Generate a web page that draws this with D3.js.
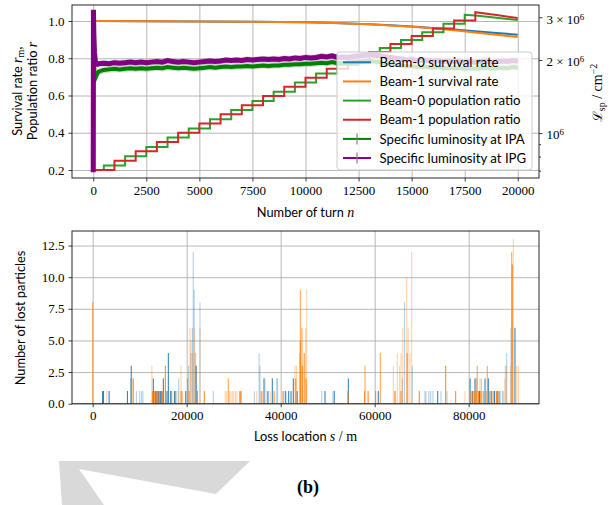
<!DOCTYPE html>
<html>
<head>
<meta charset="utf-8">
<script src="https://cdn.jsdelivr.net/npm/d3@7"></script>
<style>
  body { margin: 0; background: #fff; }
  svg { display: block; }
</style>
</head>
<body>
<svg id="fig" width="616" height="505"></svg>
<script>
// ---------------- data ----------------
// survival rate of each beam vs. turn number
const survTurns = [0, 2500, 5000, 7500, 10000, 11000, 12000, 13000, 14000, 15000, 16000, 17000, 18000, 19000, 20000];
const beam0Survival = [1.000, 0.999, 0.998, 0.996, 0.994, 0.991, 0.987, 0.983, 0.977, 0.970, 0.963, 0.954, 0.945, 0.936, 0.926];
const beam1Survival = [1.000, 0.999, 0.998, 0.996, 0.994, 0.991, 0.987, 0.982, 0.976, 0.969, 0.961, 0.950, 0.938, 0.926, 0.914];

// population ratio: injection steps (start turn, level), then free decay
const beam1StepStarts = [0, 1000, 2000, 3000, 4000, 5000, 6000, 7000, 8000, 9000, 10000, 11000, 12000, 13000, 14000, 15000, 16000, 17000];
const beam1StepLevels = [0.200, 0.250, 0.300, 0.350, 0.400, 0.449, 0.499, 0.548, 0.597, 0.647, 0.696, 0.743, 0.789, 0.833, 0.877, 0.919, 0.960, 1.003];
const beam1TailTurns = [18000, 19000, 20000];
const beam1Tail = [1.047, 1.032, 1.016];

const beam0StepStarts = [0, 500, 1500, 2500, 3500, 4500, 5500, 6500, 7500, 8500, 9500, 10500, 11500, 12500, 13500, 14500, 15500, 16500];
const beam0StepLevels = [0.200, 0.224, 0.274, 0.324, 0.374, 0.423, 0.473, 0.522, 0.571, 0.620, 0.670, 0.718, 0.764, 0.810, 0.855, 0.898, 0.940, 0.985];
const beam0TailTurns = [17500, 18000, 19000, 20000];
const beam0Tail = [1.033, 1.030, 1.018, 1.005];

// specific luminosity (units of 1e6 cm^-2)
const lumTurns = [0, 10, 30, 60, 100, 150, 200, 250].concat(d3.range(500, 20001, 250));
const lumIPG = [0.69, 3.22, 2.55, 2.15, 1.98, 1.93, 1.92, 1.93,
  1.94, 1.93, 1.95, 1.94, 1.95, 1.96, 1.95, 1.96, 1.95, 1.96,
  1.97, 1.96, 1.99, 1.97, 1.96, 1.97, 1.96, 1.95, 1.96, 1.97,
  1.98, 1.97, 1.98, 2.00, 1.99, 2.00, 1.99, 2.01, 2.00, 2.01,
  2.02, 2.01, 2.02, 2.01, 2.03, 2.02, 2.04, 2.03, 2.05, 2.04,
  2.05, 2.07, 2.06, 2.08, 2.05, 2.06, 2.05, 2.07, 2.08, 2.09,
  2.10, 2.09, 2.08, 2.06, 2.05, 2.03, 2.02, 2.00, 2.01, 1.99,
  2.00, 1.99, 1.98, 1.99, 1.97, 1.98, 1.97, 1.98, 1.96, 1.97,
  1.96, 1.97, 1.98, 1.96, 1.97, 1.98, 1.97, 1.99, 1.98];
const lumIPA = [0.70, 3.10, 2.20, 1.75, 1.68, 1.72, 1.76, 1.79,
  1.82, 1.83, 1.84, 1.83, 1.84, 1.85, 1.84, 1.85, 1.84, 1.85,
  1.86, 1.85, 1.87, 1.86, 1.85, 1.86, 1.85, 1.84, 1.85, 1.86,
  1.87, 1.86, 1.87, 1.88, 1.87, 1.88, 1.88, 1.89, 1.88, 1.89,
  1.90, 1.89, 1.90, 1.90, 1.91, 1.91, 1.92, 1.92, 1.93, 1.93,
  1.94, 1.95, 1.94, 1.96, 1.94, 1.95, 1.94, 1.95, 1.96, 1.97,
  1.98, 1.97, 1.96, 1.94, 1.93, 1.91, 1.90, 1.88, 1.89, 1.87,
  1.88, 1.87, 1.86, 1.87, 1.85, 1.86, 1.85, 1.86, 1.84, 1.85,
  1.84, 1.85, 1.86, 1.84, 1.85, 1.86, 1.85, 1.87, 1.86];
const lumRelErr = 0.03;

// lost particles per location bin: [s in m, count]
const lossB0Light = [[8050,2],[9300,1],[10000,1],[10400,1],[10700,1],[13600,1],[17900,1],[18300,2],[20400,3],[20900,4],[21200,6],[21400,12],[21600,9],[21900,4],[22830,8],[25670,1],[31600,1],[34400,1],[35400,4],[35600,3],[37100,1],[39150,2],[39350,2],[40700,1],[48720,1],[51100,1],[65900,2],[66350,8],[68000,3],[70700,1],[70900,1],[71500,1],[71900,1],[72400,1],[74100,1],[75380,1],[81600,2],[82700,2],[86700,1],[87200,1],[87800,3],[88080,4],[89000,6]];
const lossB1Light = [[3000,1],[8700,2],[12600,3],[13000,1],[13300,1],[18300,1],[18790,3],[20700,6],[20900,5],[21300,4],[21700,6],[22100,3],[22830,6],[28200,1],[28500,1],[29100,1],[29400,1],[29700,1],[30000,1],[30400,1],[30700,1],[34900,1],[35800,1],[36700,2],[37800,1],[43040,3],[43400,3],[44000,4],[45300,6],[45530,9],[63960,3],[64400,1],[64810,4],[65300,3],[65600,4],[65960,6],[66810,10],[67100,6],[67500,4],[67870,12],[79200,1],[81700,2],[82400,2],[86000,1],[87400,1],[87700,2],[88080,3],[88900,3],[89500,13],[90200,3],[90600,3]];
const lossB1Mid = [[0,8],[18800,1],[28850,2],[44180,9],[44530,6],[57940,3],[61200,4],[81830,3],[83960,3],[89150,12]];
const lossB0Dark = [[2100,1],[2300,1],[3500,1],[7400,1],[8200,3],[12900,2],[13400,1],[13700,1],[14000,1],[14400,1],[14700,1],[15030,2],[15600,1],[16100,4],[16600,1],[17400,1],[19800,1],[22000,3],[36450,2],[37300,1],[38220,2],[41060,1],[41700,1],[42200,1],[42690,2],[43500,1],[49430,1],[51400,1],[54400,2],[60770,1],[73400,1],[80300,2],[80800,1],[81340,2],[82300,1],[83470,2],[84180,2],[84800,1],[85500,1],[86200,1],[89850,6]];
const lossB1Dark = [[8600,2],[12700,1],[13100,1],[13500,1],[13900,1],[14200,1],[14900,1],[15460,3],[15900,1],[16800,1],[17600,1],[19000,1],[20200,2],[20500,1],[22300,1],[23750,1],[31300,1],[31500,1],[36000,1],[38600,1],[40500,1],[43200,2],[44180,5],[44600,3],[45000,4],[45400,2],[54300,1],[57850,1],[58600,1],[60200,1],[64300,1],[65600,1],[66900,4],[69490,1],[75100,3],[77230,1],[80500,1],[80900,1],[81200,1],[81600,1],[82100,1],[82600,1],[83100,1],[83700,1],[84500,1],[85200,1],[85900,1],[86500,1],[89280,11]];

const turnTicks = [0, 2500, 5000, 7500, 10000, 12500, 15000, 17500, 20000];
const ratioTicks = [0.2, 0.4, 0.6, 0.8, 1.0];
const lumMajorTicks = [1, 2, 3];
const lumMinorTicks = [0.7, 0.8, 0.9];
const lossTicks = [0, 20000, 40000, 60000, 80000];
const countTicks = [0, 2.5, 5, 7.5, 10, 12.5];

const legendLabels = ["Beam-0 survival rate", "Beam-1 survival rate", "Beam-0 population ratio",
  "Beam-1 population ratio", "Specific luminosity at IPA", "Specific luminosity at IPG"];

// ---------------- styling ----------------
const SERIF = "'Liberation Serif', 'DejaVu Serif', serif";
const SANS = "Lato, 'Noto Sans', sans-serif";
const C0 = "#1f77b4", C1 = "#ff7f0e", C2 = "#2ca02c", C3 = "#d62728";
const GREEN = "#008000", PURPLE = "#800080";
const GRID = "#b0b0b0", SPINE = "#262626";

const svg = d3.select("#fig");

// light watermark shape in the lower left
svg.append("polygon")
  .attr("points", "59,461 250,461 216,494 79,469 104,505 62,505")
  .attr("fill", "#d9d9d9");

// ================= top panel =================
const tp = { l: 72, r: 539, t: 5, b: 178 };
const x = d3.scaleLinear().domain([-1000, 21000]).range([tp.l, tp.r]);
const yL = d3.scaleLinear().domain([0.157, 1.086]).range([tp.b, tp.t]);
const yR = d3.scaleLog().domain([0.653, 3.37]).range([tp.b, tp.t]);

const gTop = svg.append("g");
gTop.append("defs").append("clipPath").attr("id", "clipTop")
  .append("rect").attr("x", tp.l).attr("y", tp.t).attr("width", tp.r - tp.l).attr("height", tp.b - tp.t);

function gridStyle(g) {
  g.select(".domain").remove();
  g.selectAll("line").attr("stroke", GRID).attr("stroke-width", 0.9);
}
gTop.append("g").attr("transform", `translate(0,${tp.b})`)
  .call(d3.axisBottom(x).tickValues(turnTicks).tickSize(-(tp.b - tp.t)).tickFormat(""))
  .call(gridStyle);
gTop.append("g").attr("transform", `translate(${tp.l},0)`)
  .call(d3.axisLeft(yL).tickValues(ratioTicks).tickSize(-(tp.r - tp.l)).tickFormat(""))
  .call(gridStyle);

const plotTop = gTop.append("g").attr("clip-path", "url(#clipTop)");

const lineL = d3.line().x(d => x(d[0])).y(d => yL(d[1]));
const survB0 = survTurns.map((t, i) => [t, beam0Survival[i]]);
const survB1 = survTurns.map((t, i) => [t, beam1Survival[i]]);

function stepPoints(starts, levels, tailTurns, tail) {
  const pts = [];
  starts.forEach((s, i) => {
    const end = i + 1 < starts.length ? starts[i + 1] : tailTurns[0];
    pts.push([s, levels[i]], [end, levels[i]]);
  });
  tailTurns.forEach((t, j) => pts.push([t, tail[j]]));
  return pts;
}
const popB0 = stepPoints(beam0StepStarts, beam0StepLevels, beam0TailTurns, beam0Tail);
const popB1 = stepPoints(beam1StepStarts, beam1StepLevels, beam1TailTurns, beam1Tail);

plotTop.append("path").attr("d", lineL(survB0)).attr("fill", "none").attr("stroke", C0).attr("stroke-width", 2);
plotTop.append("path").attr("d", lineL(survB1)).attr("fill", "none").attr("stroke", C1).attr("stroke-width", 2);
plotTop.append("path").attr("d", lineL(popB0)).attr("fill", "none").attr("stroke", C2).attr("stroke-width", 2);
plotTop.append("path").attr("d", lineL(popB1)).attr("fill", "none").attr("stroke", C3).attr("stroke-width", 2);

// luminosity with error band on the log axis
const lumA = lumTurns.map((t, i) => [t, lumIPA[i]]);
const lumG = lumTurns.map((t, i) => [t, lumIPG[i]]);
const band = d3.area().x(d => x(d[0])).y0(d => yR(d[1] * (1 - lumRelErr))).y1(d => yR(d[1] * (1 + lumRelErr)));
const lineR = d3.line().x(d => x(d[0])).y(d => yR(d[1]));
plotTop.append("path").attr("d", band(lumA)).attr("fill", "#8a8a8a").attr("opacity", 0.35);
plotTop.append("path").attr("d", band(lumG)).attr("fill", "#8a8a8a").attr("opacity", 0.35);
plotTop.append("path").attr("d", lineR(lumA)).attr("fill", "none").attr("stroke", GREEN).attr("stroke-width", 4);
plotTop.append("path").attr("d", lineR(lumG)).attr("fill", "none").attr("stroke", PURPLE).attr("stroke-width", 5);

// axes
function styleAxis(g) {
  g.select(".domain").remove();
  g.selectAll("line").attr("stroke", SPINE).attr("stroke-width", 0.9);
  g.selectAll("text").attr("font-family", SERIF).attr("font-size", 13).attr("fill", "#000");
}
gTop.append("g").attr("transform", `translate(0,${tp.b})`)
  .call(d3.axisBottom(x).tickValues(turnTicks).tickSize(3.5).tickPadding(4).tickFormat(d3.format("d")))
  .call(styleAxis);
gTop.append("g").attr("transform", `translate(${tp.l},0)`)
  .call(d3.axisLeft(yL).tickValues(ratioTicks).tickSize(3.5).tickPadding(4).tickFormat(d3.format(".1f")))
  .call(styleAxis);
const rAxis = gTop.append("g").attr("transform", `translate(${tp.r},0)`)
  .call(d3.axisRight(yR).tickValues(lumMajorTicks).tickSize(3.5).tickPadding(4).tickFormat(""))
  .call(styleAxis);
rAxis.selectAll(".tick").each(function (d) {
  const t = d3.select(this).select("text").attr("dy", "0.45em");
  t.text(null);
  t.append("tspan").text(d !== 1 ? d + " × 10" : "10");
  t.append("tspan").attr("dy", "-0.45em").attr("font-size", 9).text("6");
});
gTop.append("g").attr("transform", `translate(${tp.r},0)`)
  .call(d3.axisRight(yR).tickValues(lumMinorTicks).tickSize(2).tickFormat(""))
  .call(styleAxis);

gTop.append("rect").attr("x", tp.l).attr("y", tp.t).attr("width", tp.r - tp.l).attr("height", tp.b - tp.t)
  .attr("fill", "none").attr("stroke", SPINE).attr("stroke-width", 1);

// axis labels
const xl = gTop.append("text").attr("x", (tp.l + tp.r) / 2).attr("y", 217).attr("text-anchor", "middle")
  .attr("font-family", SANS).attr("font-size", 12.8);
xl.append("tspan").text("Number of turn ");
xl.append("tspan").attr("font-family", SERIF).attr("font-style", "italic").attr("font-size", 14).text("n");

const yl1 = gTop.append("text").attr("transform", "translate(22,91) rotate(-90)").attr("text-anchor", "middle")
  .attr("font-family", SANS).attr("font-size", 12.8);
yl1.append("tspan").text("Survival rate ");
yl1.append("tspan").attr("font-family", SERIF).attr("font-style", "italic").attr("font-size", 14).text("r");
yl1.append("tspan").attr("font-family", SERIF).attr("font-size", 10).attr("dy", 2).text("m");
yl1.append("tspan").attr("font-family", SERIF).attr("font-size", 14).attr("dy", -2).text(",");
const yl2 = gTop.append("text").attr("transform", "translate(37,91) rotate(-90)").attr("text-anchor", "middle")
  .attr("font-family", SANS).attr("font-size", 12.8);
yl2.append("tspan").text("Population ratio ");
yl2.append("tspan").attr("font-family", SERIF).attr("font-style", "italic").attr("font-size", 14).text("r");

const yr = gTop.append("text").attr("transform", "translate(602,93) rotate(-90)").attr("text-anchor", "middle")
  .attr("font-family", SERIF).attr("font-size", 14);
yr.append("tspan").attr("font-family", "'DejaVu Serif', serif").attr("font-size", 13).text("ℒ");
yr.append("tspan").attr("font-size", 10).attr("dy", 3).text("sp");
yr.append("tspan").attr("dy", -3).text(" / cm");
yr.append("tspan").attr("font-size", 10).attr("dy", -5).text("−2");

// legend
const leg = gTop.append("g");
leg.append("rect").attr("x", 337).attr("y", 52).attr("width", 195).attr("height", 118).attr("rx", 3)
  .attr("fill", "#fff").attr("fill-opacity", 0.8).attr("stroke", "#cccccc").attr("stroke-width", 1);
const legColors = [C0, C1, C2, C3, GREEN, PURPLE];
legendLabels.forEach((lab, i) => {
  const cy = 62.3 + i * 19.15;
  leg.append("line").attr("x1", 343).attr("x2", 371).attr("y1", cy).attr("y2", cy)
    .attr("stroke", legColors[i]).attr("stroke-width", 2);
  if (i >= 4) {
    leg.append("line").attr("x1", 357).attr("x2", 357).attr("y1", cy - 5.5).attr("y2", cy + 5.5)
      .attr("stroke", "#808080").attr("stroke-width", 1.2);
  }
  leg.append("text").attr("x", 379.5).attr("y", cy).attr("dy", "0.35em")
    .attr("font-family", SANS).attr("font-size", 13.2).text(lab);
});

// ================= bottom panel =================
const bp = { l: 72, r: 539, t: 231, b: 403.7 };
const xs = d3.scaleLinear().domain([-4400, 94960]).range([bp.l, bp.r]);
const ys = d3.scaleLinear().domain([0, 13.65]).range([bp.b, bp.t]);
const gBot = svg.append("g");

gBot.append("g").attr("transform", `translate(0,${bp.b})`)
  .call(d3.axisBottom(xs).tickValues(lossTicks).tickSize(-(bp.b - bp.t)).tickFormat(""))
  .call(gridStyle);
gBot.append("g").attr("transform", `translate(${bp.l},0)`)
  .call(d3.axisLeft(ys).tickValues(countTicks).tickSize(-(bp.r - bp.l)).tickFormat(""))
  .call(gridStyle);

const binW = 230;
function bars(data, color, alpha) {
  gBot.append("g").selectAll("rect").data(data).join("rect")
    .attr("x", d => xs(d[0] - binW / 2))
    .attr("width", d => Math.max(1, xs(d[0] + binW / 2) - xs(d[0] - binW / 2)))
    .attr("y", d => ys(d[1]))
    .attr("height", d => ys(0) - ys(d[1]))
    .attr("fill", color).attr("fill-opacity", alpha);
}
bars(lossB0Light, C0, 0.35);
bars(lossB1Light, C1, 0.35);
bars(lossB1Mid, C1, 0.7);
bars(lossB0Dark, C0, 0.9);
bars(lossB1Dark, C1, 0.9);

gBot.append("g").attr("transform", `translate(0,${bp.b})`)
  .call(d3.axisBottom(xs).tickValues(lossTicks).tickSize(3.5).tickPadding(4).tickFormat(d3.format("d")))
  .call(styleAxis);
gBot.append("g").attr("transform", `translate(${bp.l},0)`)
  .call(d3.axisLeft(ys).tickValues(countTicks).tickSize(3.5).tickPadding(4).tickFormat(d3.format(".1f")))
  .call(styleAxis);
gBot.append("rect").attr("x", bp.l).attr("y", bp.t).attr("width", bp.r - bp.l).attr("height", bp.b - bp.t)
  .attr("fill", "none").attr("stroke", SPINE).attr("stroke-width", 1);

const bxl = gBot.append("text").attr("x", (bp.l + bp.r) / 2).attr("y", 441).attr("text-anchor", "middle")
  .attr("font-family", SANS).attr("font-size", 12.8);
bxl.append("tspan").text("Loss location ");
bxl.append("tspan").attr("font-family", SERIF).attr("font-style", "italic").attr("font-size", 14).text("s");
bxl.append("tspan").attr("font-family", SERIF).attr("font-size", 14).text(" / m");

gBot.append("text").attr("transform", "translate(25,318) rotate(-90)").attr("text-anchor", "middle")
  .attr("font-family", SANS).attr("font-size", 12.8).text("Number of lost particles");

// panel tag
svg.append("text").attr("x", 308).attr("y", 493).attr("text-anchor", "middle")
  .attr("font-family", SERIF).attr("font-weight", "bold").attr("font-size", 18).text("(b)");
</script>
</body>
</html>
